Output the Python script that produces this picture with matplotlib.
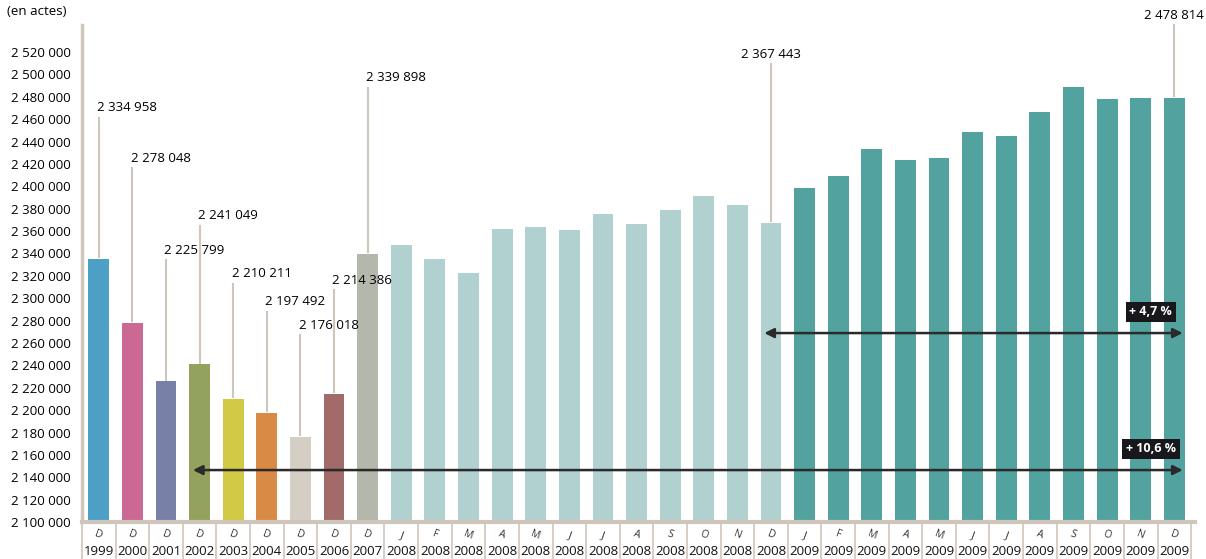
import matplotlib.pyplot as plt
import matplotlib.transforms as mtransforms
import numpy as np

months = ['D'] * 9 + list('JFMAMJJASOND') + list('JFMAMJJASOND')
years = [str(y) for y in range(1999, 2008)] + ['2008'] * 12 + ['2009'] * 12
values = [2334958, 2278048, 2225799, 2241049, 2210211, 2197492, 2176018, 2214386, 2339898,
          2347500, 2335000, 2322500, 2361800, 2363600, 2361000, 2375200, 2366300, 2378800,
          2391300, 2383300, 2367443,
          2398500, 2409200, 2433300, 2423500, 2425300, 2448500, 2445000, 2466400, 2488800,
          2478000, 2478900, 2478814]
year_colors = ['#4e9fc5', '#cb6894', '#7880a8', '#93a25c', '#d2c944', '#d98a44',
               '#d5cec4', '#a26b69', '#b4b7ac']
colors = year_colors + ['#b1d1d1'] * 12 + ['#52a3a0'] * 12

# labelled bars: index -> label y (data)
labels = {0: 2470000, 1: 2425000, 2: 2343000, 3: 2374000, 4: 2322000, 5: 2297000,
          6: 2276000, 7: 2316000, 8: 2497000, 20: 2518000, 32: 2553000}
YMIN, YMAX = 2100000, 2544000
BEIGE = '#cfc6bb'


def fmt(v):
    return f'{v:,}'.replace(',', ' ')


plt.rcParams['font.family'] = ['Open Sans', 'DejaVu Sans']
fig = plt.figure(figsize=(12.06, 5.59), dpi=100)
ax = fig.add_axes([0.068, 0.066, 0.923, 0.889])

x = np.arange(len(values))
ax.bar(x, [v - YMIN for v in values], bottom=YMIN, width=0.62, color=colors, zorder=2)

ax.set_xlim(-0.5, 32.62)
ax.set_ylim(YMIN, YMAX)
yt = np.arange(2100000, 2520001, 20000)
ax.set_yticks(yt)
ax.set_yticklabels([fmt(v) for v in yt], fontsize=9.5)
for s in ['top', 'right']:
    ax.spines[s].set_visible(False)
ax.spines['left'].set_color(BEIGE)
ax.spines['left'].set_linewidth(2.5)
ax.spines['bottom'].set_color(BEIGE)
ax.spines['bottom'].set_linewidth(3)
ax.tick_params(axis='y', length=0, pad=8)
ax.set_xticks([])
ax.set_xticks(np.arange(-0.5, 33, 1), minor=True)
ax.tick_params(axis='x', which='minor', length=28, color=BEIGE, width=1.2)

tr = mtransforms.blended_transform_factory(ax.transData, fig.transFigure)
for i in x:
    ax.text(i, 0.043, months[i], transform=tr, ha='center', va='center',
            fontsize=7.5, rotation=-20, color='#333333')
    ax.text(i, 0.014, years[i], transform=tr, ha='center', va='center',
            fontsize=9.5, color='#111111')

# value labels with leader lines
for i, ly in labels.items():
    ax.plot([i, i], [values[i] + 1500, ly - 9000], color=BEIGE, lw=1.5, zorder=1,
            clip_on=False)
    if i in (20, 32):
        ax.text(i, ly, fmt(values[i]), ha='center', va='center', fontsize=9.5, clip_on=False)
    else:
        ax.text(i - 0.05, ly, fmt(values[i]), ha='left', va='center', fontsize=9.5)

fig.text(0.006, 0.973, '(en actes)', fontsize=9.5)

# variation arrows
for start, yv, txt in [(19.8, 2268900, '+ 4,7 %'), (2.8, 2146500, '+ 10,6 %')]:
    ax.annotate('', xy=(32.25, yv), xytext=(start, yv),
                arrowprops=dict(arrowstyle='<|-|>', color='#2a2a2a', lw=1.8,
                                mutation_scale=14, shrinkA=0, shrinkB=0), zorder=4)
    ax.text(31.3, yv + 19000, txt, ha='center', va='center', fontsize=9, color='white',
            fontweight='bold', zorder=5,
            bbox=dict(boxstyle='square,pad=0.3', fc='#18181c', ec='none'))

fig.savefig('out.png', dpi=100)
